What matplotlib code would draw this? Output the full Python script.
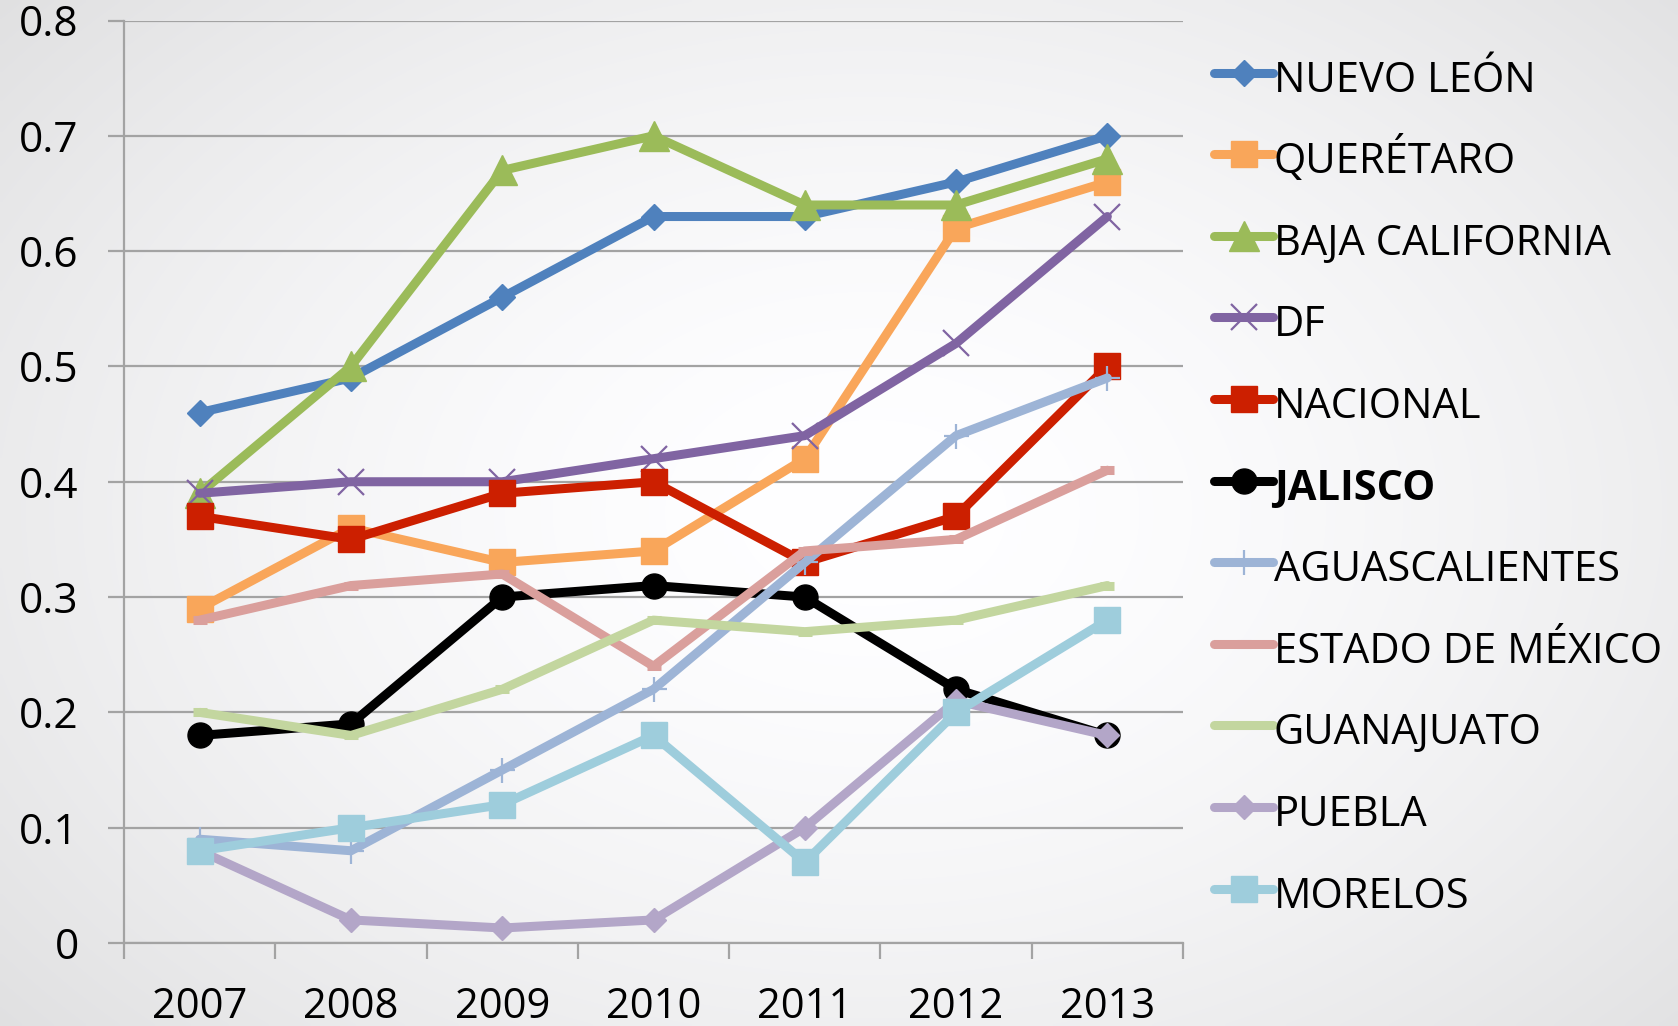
import numpy as np
import matplotlib
matplotlib.use("Agg")
import matplotlib.pyplot as plt
from matplotlib.lines import Line2D
from matplotlib.ticker import FixedLocator, NullFormatter

plt.rcParams['font.family'] = ['Open Sans', 'DejaVu Sans']

years = ["2007", "2008", "2009", "2010", "2011", "2012", "2013"]

nuevo_leon = [0.46, 0.49, 0.56, 0.63, 0.63, 0.66, 0.70]
queretaro = [0.29, 0.36, 0.33, 0.34, 0.42, 0.62, 0.66]
baja_california = [0.39, 0.50, 0.67, 0.70, 0.64, 0.64, 0.68]
df = [0.39, 0.40, 0.40, 0.42, 0.44, 0.52, 0.63]
nacional = [0.37, 0.35, 0.39, 0.40, 0.33, 0.37, 0.50]
jalisco = [0.18, 0.19, 0.30, 0.31, 0.30, 0.22, 0.18]
aguascalientes = [0.09, 0.08, 0.15, 0.22, 0.33, 0.44, 0.49]
estado_de_mexico = [0.28, 0.31, 0.32, 0.24, 0.34, 0.35, 0.41]
guanajuato = [0.20, 0.18, 0.22, 0.28, 0.27, 0.28, 0.31]
puebla = [0.08, 0.02, 0.013, 0.02, 0.10, 0.21, 0.18]
morelos = [0.08, 0.10, 0.12, 0.18, 0.07, 0.20, 0.28]

series_names = ["NUEVO LEÓN", "QUERÉTARO", "BAJA CALIFORNIA", "DF", "NACIONAL",
                "JALISCO", "AGUASCALIENTES", "ESTADO DE MÉXICO", "GUANAJUATO",
                "PUEBLA", "MORELOS"]
series_values = [nuevo_leon, queretaro, baja_california, df, nacional, jalisco,
                 aguascalientes, estado_de_mexico, guanajuato, puebla, morelos]

y_ticks = [0, 0.1, 0.2, 0.3, 0.4, 0.5, 0.6, 0.7, 0.8]
y_tick_labels = ["0", "0.1", "0.2", "0.3", "0.4", "0.5", "0.6", "0.7", "0.8"]

styles = [
    dict(color="#4F81BD", marker="D", ms=13),
    dict(color="#F9A65A", marker="s", ms=19),
    dict(color="#9BBB59", marker="^", ms=21),
    dict(color="#8064A2", marker="x", ms=19, mew=1.6),
    dict(color="#CC1F00", marker="s", ms=19),
    dict(color="#000000", marker="o", ms=18),
    dict(color="#9DB4D6", marker="+", ms=18, mew=1.6),
    dict(color="#DA9F9C", marker="_", ms=10, mew=6.5),
    dict(color="#C3D69F", marker="_", ms=10, mew=6.5),
    dict(color="#B3A6C8", marker="D", ms=12),
    dict(color="#9ECDDC", marker="s", ms=19),
]

W, H = 1678, 1026
fig = plt.figure(figsize=(W / 100, H / 100), dpi=100)

# background radial gradient
bg = fig.add_axes([0, 0, 1, 1], zorder=-10)
gx, gy = np.meshgrid(np.linspace(0, 1, 400), np.linspace(0, 1, 250))
r = np.sqrt(((gx - 0.52) / 0.75) ** 2 + ((gy - 0.5) / 0.85) ** 2)
r = np.clip(r, 0, 1)
v = 1.0 - 0.14 * r ** 1.6
img = np.dstack([v, v, v * 1.005])
img = np.clip(img, 0, 1)
bg.imshow(img, extent=[0, 1, 0, 1], aspect='auto', origin='lower', interpolation='bilinear')
bg.set_axis_off()

ax = fig.add_axes([124 / W, 1 - 943 / H, (1183 - 124) / W, (943 - 20.5) / H])
ax.set_facecolor('none')

x = np.arange(len(years))
lines = []
for name, vals, st in zip(series_names, series_values, styles):
    kw = dict(st)
    color = kw.pop("color")
    mew = kw.pop("mew", 1.0)
    ln, = ax.plot(x, vals, color=color, lw=6.5, marker=kw["marker"], ms=kw["ms"],
                  mew=mew, mec=color, mfc=color, label=name,
                  solid_capstyle='round', solid_joinstyle='round')
    lines.append(ln)

ax.set_xlim(-0.5, len(years) - 0.5)
ax.set_ylim(0, 0.8)

grid_c = "#a3a3a3"
ax.set_yticks(y_ticks)
ax.set_yticklabels(y_tick_labels)
ax.yaxis.grid(True, color=grid_c, lw=1.6)
ax.set_axisbelow(True)

ax.set_xticks(x)
ax.set_xticklabels(years)
ax.xaxis.set_minor_locator(FixedLocator(np.arange(-0.5, len(years), 1.0)))
ax.xaxis.set_minor_formatter(NullFormatter())
ax.tick_params(axis='x', which='major', length=0, pad=31, labelsize=30, labelcolor='black')
ax.tick_params(axis='x', which='minor', length=11.5, width=1.6, color=grid_c, direction='out')
ax.tick_params(axis='y', which='major', length=11.5, width=1.6, color=grid_c, pad=21,
               labelsize=30.5, labelcolor='black')

for s in ['top', 'right']:
    ax.spines[s].set_visible(False)
for s in ['left', 'bottom']:
    ax.spines[s].set_color(grid_c)
    ax.spines[s].set_linewidth(1.6)

# legend, laid out row by row (evenly spaced rows like the reference)
row0, pitch = 72.5, 81.6
hx0, hx1, tx = 1214, 1273, 1274
for i, ln in enumerate(lines):
    yc = 1 - (row0 + i * pitch) / H
    handle = Line2D([hx0 / W, (hx0 + hx1) / 2 / W, hx1 / W], [yc, yc, yc],
                    transform=fig.transFigure, color=ln.get_color(), lw=ln.get_linewidth(),
                    marker=ln.get_marker(), ms=ln.get_markersize(), mew=ln.get_markeredgewidth(),
                    mec=ln.get_markeredgecolor(), mfc=ln.get_markerfacecolor(),
                    markevery=[1], solid_capstyle='round')
    fig.add_artist(handle)
    fig.text(tx / W, yc - 19 / H, ln.get_label(), fontsize=30, va='baseline', ha='left',
             color='black', fontweight='bold' if ln.get_label() == "JALISCO" else 'normal')

fig.savefig("out.png", dpi=100)
